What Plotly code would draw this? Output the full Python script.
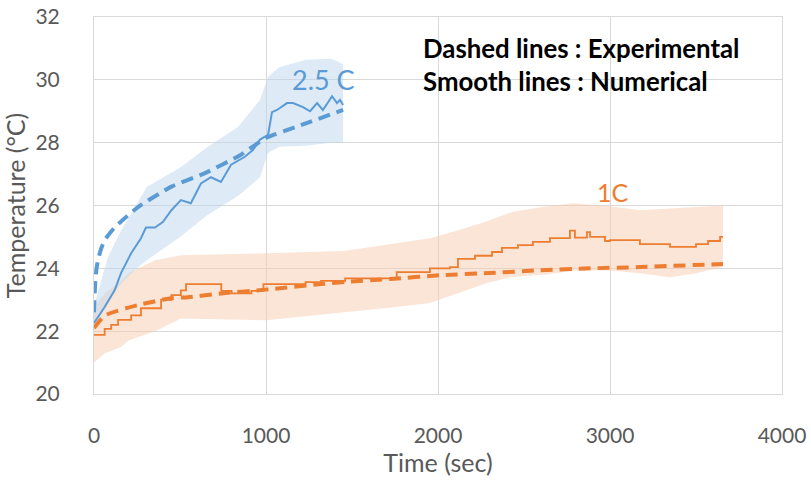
import plotly.graph_objects as go

# ---- Blue (2.5 C) ----
blue_sol_t = [0, 62, 120, 157, 215, 273, 302, 355, 400, 450, 505, 563, 622, 680, 738, 797, 877, 925, 965, 1012, 1035, 1064, 1122, 1157, 1215, 1256, 1297, 1331, 1384, 1413, 1430, 1448]
blue_sol_T = [22.26, 22.77, 23.3, 23.85, 24.47, 24.96, 25.3, 25.3, 25.47, 25.85, 26.17, 26.07, 26.7, 26.9, 26.75, 27.3, 27.55, 27.77, 28.1, 28.25, 28.97, 29.04, 29.26, 29.26, 29.13, 29.0, 29.26, 29.04, 29.48, 29.26, 29.36, 29.2]

blue_dash_t = [0, 3, 8, 15, 25, 40, 62, 120, 256, 450, 645, 849, 1000, 1200, 1448]
blue_dash_T = [22.6, 23.1, 23.6, 24.0, 24.3, 24.6, 24.9, 25.3, 25.95, 26.6, 27.03, 27.6, 28.15, 28.55, 29.04]

blue_band_t = [0, 40, 81, 157, 238, 308, 500, 660, 837, 965, 1012, 1076, 1230, 1380, 1448]
blue_band_hi = [22.8, 23.6, 24.36, 25.2, 25.95, 26.6, 27.2, 27.86, 28.5, 29.36, 30.1, 30.4, 30.64, 30.67, 30.5]
blue_band_lo = [22.0, 22.5, 23.0, 23.5, 23.95, 24.26, 25.0, 25.7, 26.3, 26.9, 27.67, 27.87, 27.9, 28.0, 28.0]

# ---- Orange (1C) ----
org_sol_t = [0, 62, 100, 140, 216, 273, 390, 450, 505, 535, 740, 800, 915, 985, 1230, 1320, 1460, 1760, 1953, 2070, 2116, 2215, 2314, 2372, 2465, 2552, 2651, 2767, 2796, 2866, 2884, 2971, 3000, 3174, 3349, 3465, 3500, 3570, 3640, 3657]
org_sol_T = [21.88, 22.07, 22.2, 22.36, 22.5, 22.73, 23.0, 23.15, 23.3, 23.5, 23.28, 23.2, 23.28, 23.5, 23.56, 23.6, 23.68, 23.88, 24.0, 24.04, 24.3, 24.4, 24.52, 24.65, 24.74, 24.84, 24.96, 25.2, 24.98, 25.15, 25.0, 24.87, 24.9, 24.77, 24.68, 24.68, 24.77, 24.87, 25.0, 25.0]

org_dash_t = [0, 64, 256, 450, 547, 738, 1012, 1320, 1460, 1721, 2012, 2302, 2593, 2884, 3174, 3657]
org_dash_T = [22.1, 22.5, 22.83, 23.05, 23.08, 23.2, 23.33, 23.5, 23.57, 23.66, 23.78, 23.85, 23.94, 24.0, 24.04, 24.14]

org_band_t = [0, 62, 157, 200, 355, 506, 1000, 1453, 1757, 1953, 2110, 2285, 2436, 2634, 2785, 3000, 3174, 3349, 3500, 3657]
org_band_hi = [22.8, 23.2, 23.6, 23.85, 24.26, 24.42, 24.48, 24.55, 24.8, 24.96, 25.2, 25.5, 25.8, 25.98, 26.07, 25.98, 25.85, 25.9, 25.94, 26.0]
org_band_lo = [21.0, 21.3, 21.5, 21.7, 22.0, 22.4, 22.35, 22.6, 22.77, 22.9, 23.2, 23.53, 23.73, 23.8, 23.93, 23.93, 23.84, 23.72, 23.84, 24.04]

x_ticks = [0, 1000, 2000, 3000, 4000]
y_ticks = [20, 22, 24, 26, 28, 30, 32]

BLUE = "#5B9BD5"
ORANGE = "#ED7D31"

fig = go.Figure()

# bands
fig.add_trace(go.Scatter(x=org_band_t, y=org_band_lo, mode="lines", line=dict(width=0),
                         hoverinfo="skip", showlegend=False))
fig.add_trace(go.Scatter(x=org_band_t, y=org_band_hi, mode="lines", line=dict(width=0),
                         fill="tonexty", fillcolor="rgba(248,203,173,0.5)", hoverinfo="skip", showlegend=False))
fig.add_trace(go.Scatter(x=blue_band_t, y=blue_band_lo, mode="lines", line=dict(width=0),
                         hoverinfo="skip", showlegend=False))
fig.add_trace(go.Scatter(x=blue_band_t, y=blue_band_hi, mode="lines", line=dict(width=0),
                         fill="tonexty", fillcolor="rgba(189,215,238,0.5)", hoverinfo="skip", showlegend=False))

# lines
fig.add_trace(go.Scatter(x=org_sol_t, y=org_sol_T, mode="lines",
                         line=dict(color=ORANGE, width=1.8, shape="hv"), showlegend=False))
fig.add_trace(go.Scatter(x=blue_sol_t, y=blue_sol_T, mode="lines",
                         line=dict(color=BLUE, width=2), showlegend=False))
fig.add_trace(go.Scatter(x=org_dash_t, y=org_dash_T, mode="lines",
                         line=dict(color=ORANGE, width=4, dash="12px,7px", shape="spline", smoothing=0.6),
                         showlegend=False))
fig.add_trace(go.Scatter(x=blue_dash_t, y=blue_dash_T, mode="lines",
                         line=dict(color=BLUE, width=4, dash="12px,7px", shape="spline", smoothing=0.5),
                         showlegend=False))

font_family = "Lato, 'Open Sans', sans-serif"

fig.add_annotation(x=1140, y=30.02, text="2.5 C", showarrow=False, xanchor="left", yanchor="middle",
                   font=dict(family=font_family, size=27, color=BLUE))
fig.add_annotation(x=2910, y=26.42, text="1C", showarrow=False, xanchor="left", yanchor="middle",
                   font=dict(family=font_family, size=25, color=ORANGE))
fig.add_annotation(x=1900, y=31.0, text="<b>Dashed lines : Experimental</b>", showarrow=False,
                   xanchor="left", yanchor="middle", font=dict(family=font_family, size=25.8, color="#000000"))
fig.add_annotation(x=1900, y=29.97, text="<b>Smooth lines : Numerical</b>", showarrow=False,
                   xanchor="left", yanchor="middle", font=dict(family=font_family, size=25.8, color="#000000"))

axis_common = dict(showgrid=True, gridcolor="#D9D9D9", gridwidth=1, zeroline=False,
                   showline=True, linecolor="#D9D9D9", linewidth=1, mirror=True,
                   automargin=False, ticklabeloverflow="allow",
                   tickfont=dict(family=font_family, size=21, color="#595959"))

fig.update_xaxes(range=[0, 4000], tickvals=x_ticks, ticktext=[str(v) for v in x_ticks],
                 ticks="outside", ticklen=23, tickcolor="rgba(0,0,0,0)",
                 title=dict(text="Time (sec)", font=dict(family=font_family, size=25, color="#595959"), standoff=6),
                 **axis_common)
fig.update_yaxes(range=[20, 32], tickvals=y_ticks, ticktext=[str(v) for v in y_ticks],
                 ticks="outside", ticklen=29, tickcolor="rgba(0,0,0,0)",
                 title=dict(text="Temperature (°C)", font=dict(family=font_family, size=25, color="#595959"), standoff=5),
                 **axis_common)

fig.update_layout(width=811, height=484, margin=dict(l=94, r=29, t=17, b=90),
                  plot_bgcolor="white", paper_bgcolor="white", showlegend=False)

# remove the browser's default 8px body margin so the figure fills the window exactly
fig.write_html("out.html", config={"displayModeBar": False},
               post_script="document.body.style.margin='0';document.body.style.overflow='hidden';")
